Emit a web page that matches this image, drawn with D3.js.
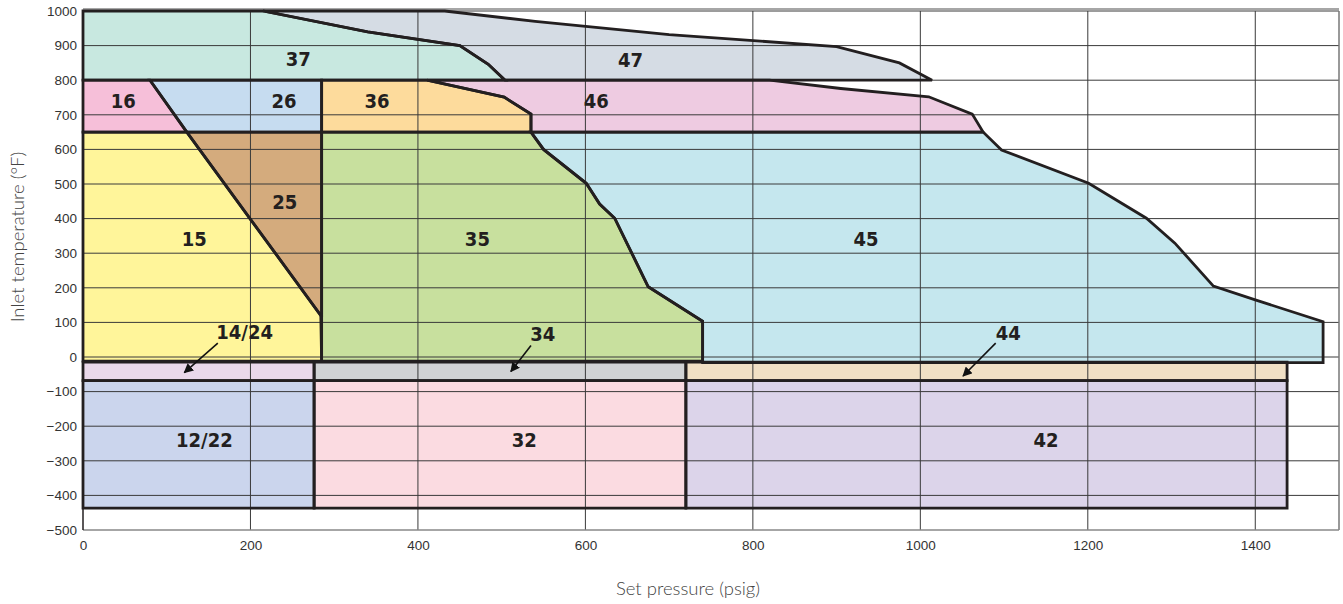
<!DOCTYPE html>
<html>
<head>
<meta charset="utf-8">
<script src="https://cdn.jsdelivr.net/npm/d3@7"></script>
<style>
  body { margin: 0; background: #fff; }
  .tick text { font-family: "Liberation Sans", Arial, sans-serif; font-size: 13.5px; fill: #333; }
  .zone-label { font-family: "DejaVu Sans Condensed", "DejaVu Sans", sans-serif; font-weight: bold; font-size: 20px; fill: #231f20; }
  .axis-title { font-family: "Lato", "Open Sans", sans-serif; font-weight: 300; font-size: 18.5px; fill: #444; }
</style>
</head>
<body>
<svg id="chart" width="1343" height="604"></svg>
<script>
// zone names, fills and outlines (psig, degF)
var zoneNames = ["37", "47", "16", "26", "36", "46", "15", "25", "35", "45",
                 "14/24", "34", "44", "12/22", "32", "42"];
var zoneColors = ["#c8e8e0", "#d5dce4", "#f6bfd9", "#c6dcf0", "#fddb9c", "#eecbe1",
                  "#fff59a", "#d4ab7d", "#c8e09e", "#c5e7ee",
                  "#ead8ea", "#d1d2d4", "#f1e0c5", "#cbd5ed", "#fbdbe1", "#dcd4ea"];
var zone37 = [[0,1000],[215,1000],[340,940],[450,900],[484,846],[504,800],[0,800]];
var zone47 = [[215,1000],[432,1000],[540,970],[700,932],[900,897],[975,850],[1014,800],
              [504,800],[484,846],[450,900],[340,940]];
var zone16 = [[0,800],[80,800],[124,650],[0,650]];
var zone26 = [[80,800],[285,800],[285,650],[124,650]];
var zone36 = [[285,800],[411,800],[503,751],[535,702],[535,650],[285,650]];
var zone46 = [[411,800],[820,800],[905,776],[1010,752],[1062,702],[1075,650],[535,650],[535,702],[503,751]];
var zone15 = [[0,650],[124,650],[284,120],[285,-12],[0,-12]];
var zone25 = [[124,650],[285,650],[285,120],[284,120]];
var zone35 = [[285,650],[535,650],[550,600],[601,502],[617,442],[635,401],[675,203],[740,103],[740,-12],[285,-12]];
var zone45 = [[535,650],[1075,650],[1097,598],[1201,502],[1270,401],[1304,329],[1350,205],[1400,165],
              [1481,102],[1481,-16],[740,-16],[740,103],[675,203],[635,401],[617,442],[601,502],[550,600]];
var zone1424 = [[0,-15],[276,-15],[276,-68],[0,-68]];
var zone34 = [[276,-15],[720,-15],[720,-68],[276,-68]];
var zone44 = [[720,-15],[1438,-15],[1438,-68],[720,-68]];
var zone1222 = [[0,-68],[276,-68],[276,-437],[0,-437]];
var zone32 = [[276,-68],[720,-68],[720,-437],[276,-437]];
var zone42 = [[720,-68],[1438,-68],[1438,-437],[720,-437]];
var zoneOutlines = [zone37, zone47, zone16, zone26, zone36, zone46, zone15, zone25, zone35, zone45,
                    zone1424, zone34, zone44, zone1222, zone32, zone42];
// label anchors (psig, degF)
var labelPos = [[257,862],[654,858],[48,740],[240,740],[351,740],[613,740],[133,343],[241,450],
                [471,343],[935,341],[193,73],[549,67],[1105,69],[145,-238],[527,-238],[1150,-238]];
// arrows for the thin strips: [fromPsig, fromTemp, toPsig, toTemp]
var arrows = [[161,40,121,-45],[535,33,511,-42],[1090,40,1051,-55]];
var xTicks = [0, 200, 400, 600, 800, 1000, 1200, 1400];
var yTicks = [-500,-400,-300,-200,-100,0,100,200,300,400,500,600,700,800,900,1000];

var svg = d3.select("#chart");
var x = d3.scaleLinear().domain([0, 1500]).range([83, 1339]);
var y = d3.scaleLinear().domain([-500, 1000]).range([530, 11]);
var line = d3.line().x(function(d) { return x(d[0]); }).y(function(d) { return y(d[1]); });

// fills
svg.append("g").selectAll("path")
  .data(zoneOutlines)
  .enter().append("path")
    .attr("d", function(d) { return line(d) + "Z"; })
    .attr("fill", function(d, i) { return zoneColors[i]; })
    .attr("stroke", "none");

// grid on top of fills
var grid = svg.append("g");
grid.selectAll("line.h")
  .data(yTicks.filter(function(t) { return t > -500; }))
  .enter().append("line")
    .attr("x1", x(0)).attr("x2", x(1500))
    .attr("y1", function(d) { return y(d); }).attr("y2", function(d) { return y(d); })
    .attr("stroke", "#3a3a3a").attr("stroke-width", 1);
grid.selectAll("line.v")
  .data(xTicks.slice(1))
  .enter().append("line")
    .attr("x1", function(d) { return x(d); }).attr("x2", function(d) { return x(d); })
    .attr("y1", y(1000)).attr("y2", y(-500))
    .attr("stroke", "#3a3a3a").attr("stroke-width", 1);

// frame
svg.append("line").attr("x1", x(1500)).attr("x2", x(1500)).attr("y1", y(1000)).attr("y2", y(-500))
  .attr("stroke", "#777").attr("stroke-width", 1.5);
svg.append("line").attr("x1", x(0)).attr("x2", x(1500)).attr("y1", y(-500)).attr("y2", y(-500))
  .attr("stroke", "#888").attr("stroke-width", 1.5);
svg.append("line").attr("x1", x(0)).attr("x2", x(1500)).attr("y1", y(1000) - 2).attr("y2", y(1000) - 2)
  .attr("stroke", "#888").attr("stroke-width", 1.5);
svg.append("line").attr("x1", x(0)).attr("x2", x(0)).attr("y1", y(1000)).attr("y2", y(-500))
  .attr("stroke", "#231f20").attr("stroke-width", 1.5);

// outlines
svg.append("g").selectAll("path")
  .data(zoneOutlines)
  .enter().append("path")
    .attr("d", function(d) { return line(d) + "Z"; })
    .attr("fill", "none")
    .attr("stroke", "#231f20")
    .attr("stroke-width", 2.8)
    .attr("stroke-linejoin", "miter");

// axes
svg.append("g")
  .attr("transform", "translate(0," + y(-500) + ")")
  .call(d3.axisBottom(x).tickValues(xTicks).tickFormat(d3.format("d")).tickSize(0).tickPadding(10))
  .call(function(g) { g.select(".domain").remove(); });
svg.append("g")
  .attr("transform", "translate(" + x(0) + ",0)")
  .call(d3.axisLeft(y).tickValues(yTicks).tickFormat(d3.format("d")).tickSize(0).tickPadding(6))
  .call(function(g) { g.select(".domain").remove(); });

// zone labels
svg.append("g").selectAll("text")
  .data(labelPos)
  .enter().append("text")
    .attr("class", "zone-label")
    .attr("x", function(d) { return x(d[0]); })
    .attr("y", function(d) { return y(d[1]); })
    .attr("text-anchor", "middle")
    .attr("dy", "0.36em")
    .text(function(d, i) { return zoneNames[i]; });

// arrows
svg.append("defs").append("marker")
  .attr("id", "head").attr("viewBox", "0 0 10 10").attr("refX", 9).attr("refY", 5)
  .attr("markerWidth", 6).attr("markerHeight", 6).attr("markerUnits", "strokeWidth")
  .attr("orient", "auto")
  .append("path").attr("d", "M0,0L10,5L0,10Z").attr("fill", "#111");
svg.append("g").selectAll("line")
  .data(arrows)
  .enter().append("line")
    .attr("x1", function(d) { return x(d[0]); }).attr("y1", function(d) { return y(d[1]); })
    .attr("x2", function(d) { return x(d[2]); }).attr("y2", function(d) { return y(d[3]); })
    .attr("stroke", "#111").attr("stroke-width", 1.6)
    .attr("marker-end", "url(#head)");

// axis titles
svg.append("text").attr("class", "axis-title")
  .attr("x", 688).attr("y", 595).attr("text-anchor", "middle")
  .text("Set pressure (psig)");
svg.append("text").attr("class", "axis-title")
  .attr("transform", "translate(24,237) rotate(-90)").attr("text-anchor", "middle")
  .text("Inlet temperature (°F)");
</script>
</body>
</html>
